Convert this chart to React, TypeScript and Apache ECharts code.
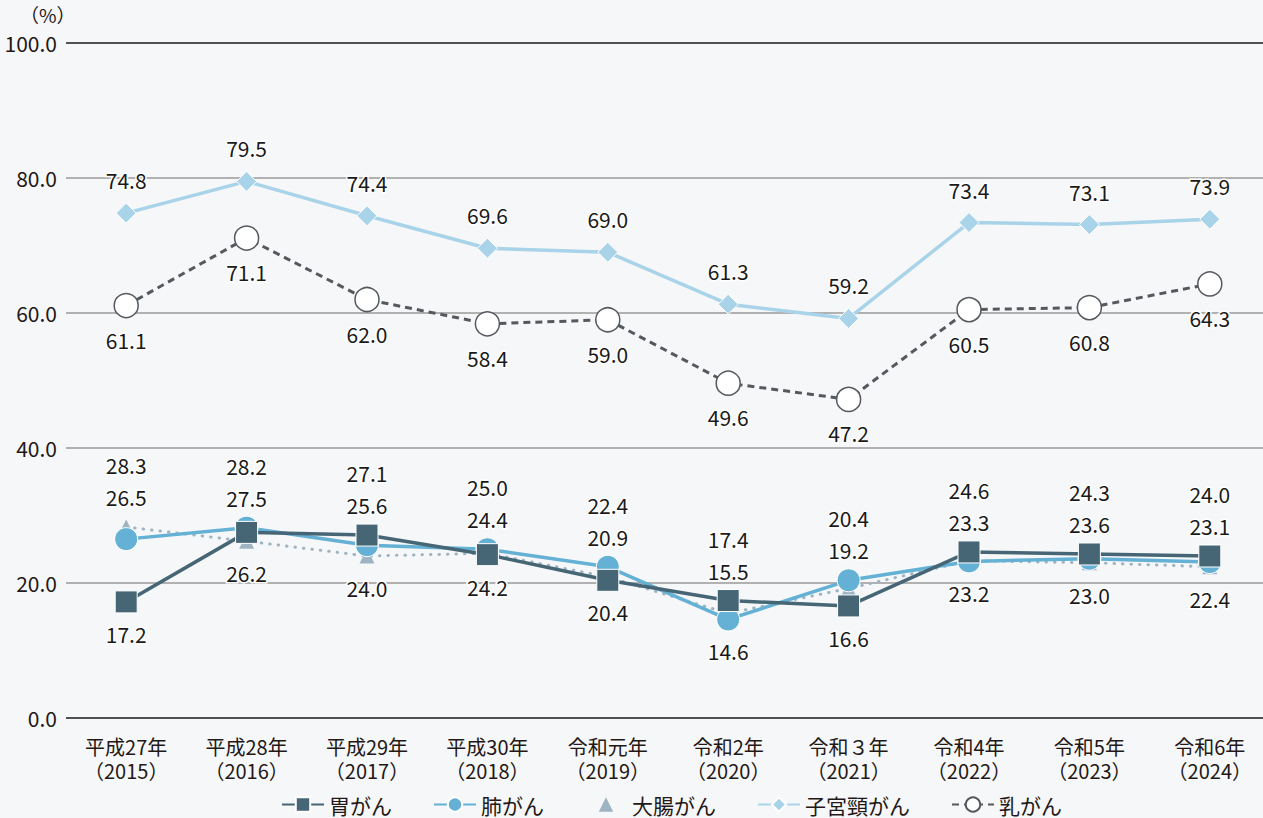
import React, { useEffect, useRef } from "react";
import * as echarts from "echarts";

const categories = [
  "平成27年\n（2015）",
  "平成28年\n（2016）",
  "平成29年\n（2017）",
  "平成30年\n（2018）",
  "令和元年\n（2019）",
  "令和2年\n（2020）",
  "令和３年\n（2021）",
  "令和4年\n（2022）",
  "令和5年\n（2023）",
  "令和6年\n（2024）",
];
const stomach = [17.2, 27.5, 27.1, 24.2, 20.4, 17.4, 16.6, 24.6, 24.3, 24.0];
const lung = [26.5, 28.2, 25.6, 25.0, 22.4, 14.6, 20.4, 23.2, 23.6, 23.1];
const colorectal = [28.3, 26.2, 24.0, 24.4, 20.9, 15.5, 19.2, 23.3, 23.0, 22.4];
const cervical = [74.8, 79.5, 74.4, 69.6, 69.0, 61.3, 59.2, 73.4, 73.1, 73.9];
const breast = [61.1, 71.1, 62.0, 58.4, 59.0, 49.6, 47.2, 60.5, 60.8, 64.3];
const yTicks = [0, 20, 40, 60, 80, 100];
const seriesNames = ["胃がん", "肺がん", "大腸がん", "子宮頸がん", "乳がん"];

const FONT = "'Noto Sans CJK JP', 'Noto Sans', sans-serif";
const TXT = "#231815";
const GRID_TOP = 43;
const GRID_H = 675;
const PX = GRID_H / 100;

const labelBase = {
  show: true,
  position: "inside" as const,
  color: "#1a1a1a",
  fontSize: 21,
  fontFamily: FONT,
  textBorderColor: "#ffffff",
  textBorderWidth: 3,
  formatter: (p: any) => Number(p.value).toFixed(1),
};

// label placement for the lower cluster: top two above, lowest below
function lowerData(own: number[], idx: number) {
  const all = [stomach, lung, colorectal];
  return own.map((v, i) => {
    const vals = all.map((a) => a[i]).sort((a, b) => b - a);
    let dy: number;
    if (v === vals[0] && all.findIndex((a) => a[i] === v) === idx) dy = -62;
    else if (v === vals[2]) dy = 32;
    else dy = -30 - (vals[0] - v) * PX;
    return { value: v, label: { ...labelBase, offset: [0, dy] } };
  });
}

export default function App() {
  const ref = useRef<HTMLDivElement>(null);
  useEffect(() => {
    const chart = echarts.init(ref.current!, null, { renderer: "svg" });
    chart.setOption({
      animation: false,
      backgroundColor: "#f6f7f9",
      textStyle: { fontFamily: FONT },
      grid: { left: 66, top: GRID_TOP, right: 0, height: GRID_H },
      legend: {
        left: 276,
        top: 789,
        itemWidth: 42,
        itemHeight: 18,
        itemGap: 41,
        textStyle: { color: TXT, fontSize: 21, fontFamily: FONT },
        data: [
          { name: seriesNames[0] },
          { name: seriesNames[1] },
          { name: seriesNames[2], lineStyle: { width: 0, opacity: 0 } },
          { name: seriesNames[3] },
          { name: seriesNames[4] },
        ],
      },
      graphic: [
        {
          type: "text",
          left: 20,
          top: 5,
          style: { text: "（%）", fill: TXT, fontSize: 19, fontFamily: FONT },
        },
      ],
      xAxis: {
        type: "category",
        data: categories,
        boundaryGap: true,
        axisLine: { show: false },
        axisTick: { show: false },
        axisLabel: {
          color: TXT,
          fontSize: 20,
          lineHeight: 24,
          margin: 16,
          fontFamily: FONT,
        },
      },
      yAxis: {
        type: "value",
        min: 0,
        max: 100,
        interval: 20,
        axisLine: { show: false },
        axisTick: { show: false },
        axisLabel: {
          color: TXT,
          fontSize: 21,
          margin: 9,
          fontFamily: FONT,
          formatter: (v: number) => (yTicks.includes(v) ? v.toFixed(1) : ""),
        },
        splitLine: {
          lineStyle: {
            color: ["#1a1a1a", "#9a9a9a", "#9a9a9a", "#9a9a9a", "#9a9a9a", "#1a1a1a"],
            width: 1.5,
          },
        },
      },
      series: [
        {
          name: seriesNames[0],
          type: "line",
          z: 5,
          data: lowerData(stomach, 0),
          symbol: "rect",
          symbolSize: 22,
          itemStyle: { color: "#466676", borderColor: "#ffffff", borderWidth: 1 },
          lineStyle: { color: "#466676", width: 3.5 },
        },
        {
          name: seriesNames[1],
          type: "line",
          z: 4,
          data: lowerData(lung, 1),
          symbol: "circle",
          symbolSize: 23,
          itemStyle: { color: "#64b1d5", borderColor: "#ffffff", borderWidth: 1 },
          lineStyle: { color: "#64b1d5", width: 3.5 },
        },
        {
          name: seriesNames[2],
          type: "line",
          z: 3,
          data: lowerData(colorectal, 2),
          symbol: "triangle",
          symbolSize: 15,
          itemStyle: { color: "#9fb4c2" },
          lineStyle: { color: "#9fb4c2", width: 3, type: [0.5, 8], cap: "round" },
        },
        {
          name: seriesNames[3],
          type: "line",
          z: 3,
          data: cervical,
          symbol: "diamond",
          symbolSize: 20,
          itemStyle: { color: "#a9d3e8", borderColor: "#ffffff", borderWidth: 1 },
          lineStyle: { color: "#a9d3e8", width: 3.5 },
          label: { ...labelBase, offset: [0, -33] },
        },
        {
          name: seriesNames[4],
          type: "line",
          z: 3,
          data: breast,
          symbol: "circle",
          symbolSize: 24,
          itemStyle: { color: "#ffffff", borderColor: "#55585d", borderWidth: 1.5 },
          lineStyle: { color: "#55585d", width: 3, type: [7, 5] },
          label: { ...labelBase, offset: [0, 34] },
        },
      ],
    });
    return () => chart.dispose();
  }, []);
  return (
    <div
      style={{
        position: "absolute",
        left: 0,
        top: 0,
        width: 1263,
        height: 818,
        overflow: "hidden",
      }}
    >
      <div ref={ref} style={{ width: 1270, height: 818 }} />
    </div>
  );
}
